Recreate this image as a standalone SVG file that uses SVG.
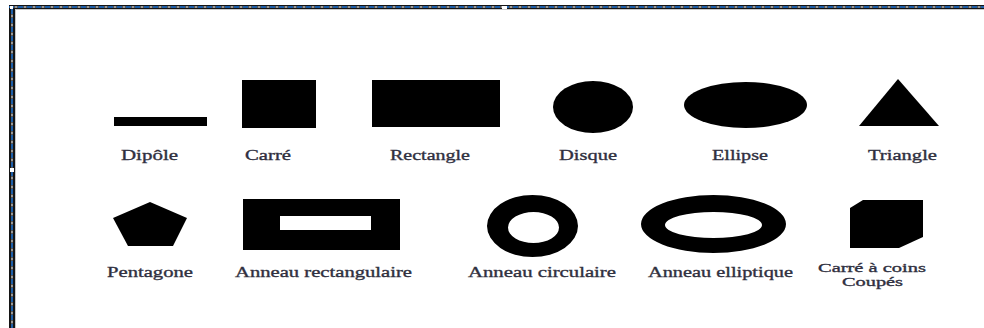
<svg xmlns="http://www.w3.org/2000/svg" width="984" height="328" viewBox="0 0 984 328">
<style>
.shape{fill:#000}
.lbl{font-family:"Liberation Serif","Times New Roman",serif;font-size:15px;fill:#303040;stroke:#303040;stroke-width:0.35}
.small{font-size:13px}
.band{fill:#141414}
.db{stroke:#1f5fa8;stroke-width:2;stroke-dasharray:5 4;fill:none}
.dg{stroke:#9a9a9a;stroke-width:2;stroke-dasharray:3 6;stroke-dashoffset:-5.5;fill:none}
.edge{stroke:#c8c8c8;stroke-width:1;fill:none}
</style>
<rect width="984" height="328" fill="#fff"/>
<g id="frame">
<rect class="band" x="9" y="5" width="975" height="4"/>
<rect class="band" x="9" y="5" width="6" height="323"/>
<line class="db" x1="9" y1="7" x2="984" y2="7"/>
<line class="dg" x1="9" y1="7" x2="984" y2="7"/>
<line class="db" x1="12" y1="9" x2="12" y2="328"/>
<line class="dg" x1="12" y1="9" x2="12" y2="328"/>
<line class="edge" x1="15.5" y1="9.5" x2="984" y2="9.5"/>
<line class="edge" x1="15.5" y1="9.5" x2="15.5" y2="328"/>
<rect x="10" y="6" width="3" height="3" fill="#fff"/>
<rect x="502" y="6" width="5" height="3" fill="#fff"/>
<rect x="10" y="168" width="4" height="4" fill="#fff"/>
</g>
<g id="dipole">
<rect class="shape" x="114" y="117" width="93" height="9"/>
<text class="lbl" x="121" y="160" textLength="57" lengthAdjust="spacingAndGlyphs">Dipôle</text>
</g>
<g id="carre">
<rect class="shape" x="242" y="80" width="74" height="48"/>
<text class="lbl" x="245" y="160" textLength="46" lengthAdjust="spacingAndGlyphs">Carré</text>
</g>
<g id="rectangle">
<rect class="shape" x="372" y="80" width="128" height="47"/>
<text class="lbl" x="390" y="160" textLength="80" lengthAdjust="spacingAndGlyphs">Rectangle</text>
</g>
<g id="disque">
<ellipse class="shape" cx="593" cy="107" rx="40" ry="26"/>
<text class="lbl" x="559" y="160" textLength="58" lengthAdjust="spacingAndGlyphs">Disque</text>
</g>
<g id="ellipse">
<ellipse class="shape" cx="745.5" cy="105" rx="61.5" ry="23"/>
<text class="lbl" x="712" y="160" textLength="56" lengthAdjust="spacingAndGlyphs">Ellipse</text>
</g>
<g id="triangle">
<polygon class="shape" points="898,79 939,126 859,126"/>
<text class="lbl" x="868" y="160" textLength="69" lengthAdjust="spacingAndGlyphs">Triangle</text>
</g>
<g id="pentagone">
<polygon class="shape" points="150,202 187,218 173,246 128,246 113,218"/>
<text class="lbl" x="107" y="277" textLength="86" lengthAdjust="spacingAndGlyphs">Pentagone</text>
</g>
<g id="anneau-rectangulaire">
<path class="shape" fill-rule="evenodd" d="M243,199H400V250H243Z M280,216V230H371V216Z"/>
<text class="lbl" x="235" y="277" textLength="177" lengthAdjust="spacingAndGlyphs">Anneau rectangulaire</text>
</g>
<g id="anneau-circulaire">
<path class="shape" fill-rule="evenodd" d="M487,226a45.5,31 0 1,0 91,0a45.5,31 0 1,0 -91,0Z M508,227.5a25.5,15.5 0 1,0 51,0a25.5,15.5 0 1,0 -51,0Z"/>
<text class="lbl" x="468" y="277" textLength="148" lengthAdjust="spacingAndGlyphs">Anneau circulaire</text>
</g>
<g id="anneau-elliptique">
<path class="shape" fill-rule="evenodd" d="M641,224a72.5,29 0 1,0 145,0a72.5,29 0 1,0 -145,0Z M665,225a48.5,13 0 1,0 97,0a48.5,13 0 1,0 -97,0Z"/>
<text class="lbl" x="648" y="277" textLength="145" lengthAdjust="spacingAndGlyphs">Anneau elliptique</text>
</g>
<g id="carre-coins-coupes">
<polygon class="shape" points="850,208 863,200 923,200 923,237 899,248 850,248"/>
<text class="lbl small" x="818" y="272" textLength="108" lengthAdjust="spacingAndGlyphs">Carré à coins</text>
<text class="lbl small" x="842" y="286" textLength="61" lengthAdjust="spacingAndGlyphs">Coupés</text>
</g>
</svg>
